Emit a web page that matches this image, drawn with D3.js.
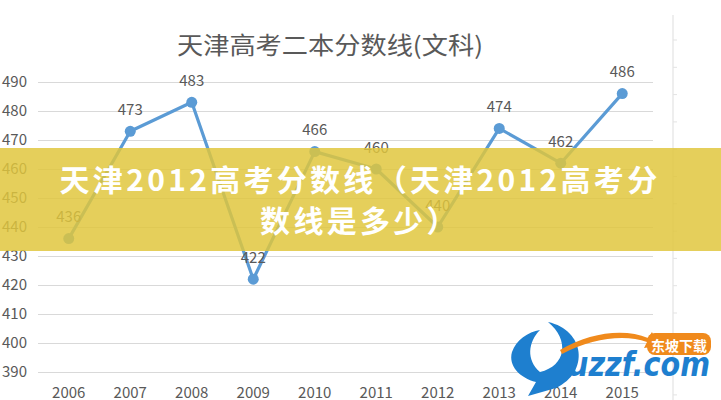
<!DOCTYPE html>
<html><head><meta charset="utf-8">
<script src="https://cdn.jsdelivr.net/npm/d3@7/dist/d3.min.js"></script>
<style>
html,body{margin:0;padding:0;background:#fff;overflow:hidden;}
svg{display:block;}
</style></head>
<body>
<svg id="c" width="721" height="400"></svg>
<script>
const years = ["2006","2007","2008","2009","2010","2011","2012","2013","2014","2015"];
const scores = [436,473,483,422,466,460,440,474,462,486];
const yTicks = [390,400,410,420,430,440,450,460,470,480,490];
const title = "天津高考二本分数线(文科)";
const bannerLines = ["天津2012高考分数线（天津2012高考分","数线是多少）"];

const svg = d3.select("#c");
const font = "'Noto Sans CJK SC','Noto Sans',sans-serif";
const W = 721, H = 400;
svg.append("rect").attr("width",W).attr("height",H).attr("fill","#fff");

const x = d3.scaleBand().domain(years).range([38,653]);
const y = d3.scaleLinear().domain([390,490]).range([372,82]);
const cx = d => x(d) + x.bandwidth()/2;

// right spreadsheet border with small ticks
svg.append("line").attr("x1",673).attr("x2",673).attr("y1",15).attr("y2",400)
  .attr("stroke","#e3e3e3").attr("stroke-width",1.2);
svg.append("g").selectAll("line").data(d3.range(40,400,27.3)).join("line")
  .attr("x1",673).attr("x2",677).attr("y1",d=>d).attr("y2",d=>d)
  .attr("stroke","#e3e3e3");

// title
svg.append("text").attr("x",330).attr("y",43).attr("text-anchor","middle")
  .attr("dominant-baseline","central")
  .attr("font-family",font).attr("font-size",24).attr("fill","#595959")
  .attr("textLength",306).attr("lengthAdjust","spacingAndGlyphs")
  .text(title);

// gridlines
const grid = svg.append("g").attr("transform","translate(38,0)")
  .call(d3.axisLeft(y).tickValues(yTicks).tickSize(-615).tickFormat(""));
grid.select(".domain").remove();
grid.selectAll(".tick line").attr("stroke","#d9d9d9").attr("stroke-width",1);

// y axis labels
const ya = svg.append("g").attr("transform","translate(38,0)")
  .call(d3.axisLeft(y).tickValues(yTicks).tickSize(0).tickPadding(11));
ya.select(".domain").remove();
ya.selectAll("text").attr("font-family",font).attr("font-size",15).attr("fill","#595959");

// x axis labels
const xa = svg.append("g").attr("transform","translate(0,372)")
  .call(d3.axisBottom(x).tickSize(0).tickPadding(15));
xa.select(".domain").remove();
xa.selectAll("text").attr("font-family",font).attr("font-size",15).attr("fill","#595959");

// line
const data = years.map((yr,i)=>({yr, v:scores[i]}));
svg.append("path").datum(data)
  .attr("d", d3.line().x(d=>cx(d.yr)).y(d=>y(d.v)))
  .attr("fill","none").attr("stroke","#5b9bd5").attr("stroke-width",3.2)
  .attr("stroke-linejoin","round");
svg.append("g").selectAll("circle").data(data).join("circle")
  .attr("cx",d=>cx(d.yr)).attr("cy",d=>y(d.v)).attr("r",5.5)
  .attr("fill","#5b9bd5");
svg.append("g").selectAll("text").data(data).join("text")
  .attr("x",d=>cx(d.yr)).attr("y",d=>y(d.v)-23)
  .attr("text-anchor","middle").attr("dominant-baseline","central")
  .attr("font-family",font).attr("font-size",15).attr("fill","#595959")
  .text(d=>d.v);

// watermark logo (decorative)
const logo = svg.append("g");
logo.append("path")
  .attr("d","M548,322 C585,330 590,372 556,388 L528,396 L536,382 C520,378 508,366 512,352 C516,340 528,332 540,330 C528,342 526,360 540,372 C566,366 570,340 548,322 Z")
  .attr("fill","#1e7fcf");
logo.append("path")
  .attr("d","M560,350 C590,332 625,328 648,338 L652,332 L658,346 L644,348 L647,342 C625,334 592,338 562,354 Z")
  .attr("fill","#f08a1c");
logo.append("rect").attr("x",647).attr("y",333).attr("width",64).attr("height",22).attr("rx",8)
  .attr("fill","#f08a1c");
logo.append("text").attr("x",679).attr("y",344.5).attr("text-anchor","middle")
  .attr("dominant-baseline","central").attr("font-family",font).attr("font-weight","bold")
  .attr("font-size",14).attr("fill","#fff").text("东坡下载");
logo.append("text").attr("x",568).attr("y",376)
  .attr("font-family","'DejaVu Sans',sans-serif").attr("font-weight","bold").attr("font-style","italic")
  .attr("font-size",34).attr("fill","#1e7fcf")
  .attr("textLength",142).attr("lengthAdjust","spacingAndGlyphs").text("uzzf.com");

// banner overlay
svg.append("rect").attr("x",0).attr("y",148).attr("width",W).attr("height",103)
  .attr("fill","rgba(224,198,60,0.84)");
svg.append("g").selectAll("text").data(bannerLines).join("text")
  .attr("x",360).attr("y",(d,i)=>178+i*41)
  .attr("text-anchor","middle").attr("dominant-baseline","central")
  .attr("font-family",font).attr("font-weight","bold").attr("font-size",30)
  .attr("letter-spacing",3.3).attr("fill","#fff")
  .text(d=>d);
</script>
</body></html>
